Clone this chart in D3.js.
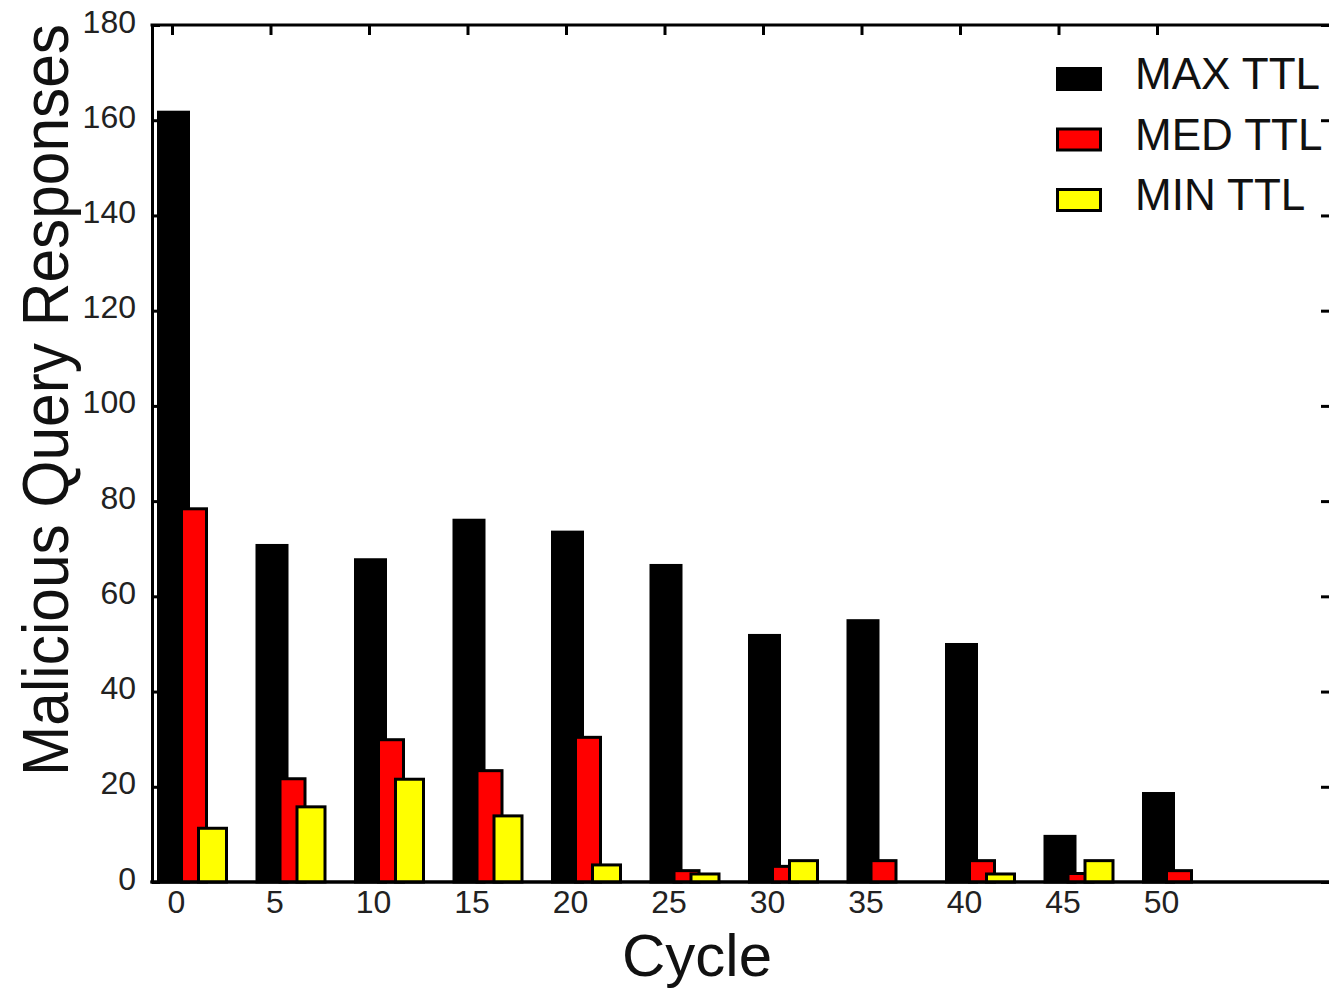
<!DOCTYPE html>
<html>
<head>
<meta charset="utf-8">
<script src="https://cdn.jsdelivr.net/npm/d3@7"></script>
<style>
  body { margin: 0; background: #fff; }
  svg { display: block; font-family: "Liberation Sans", Arial, Helvetica, sans-serif; }
</style>
</head>
<body>
<svg id="chart" width="1329" height="990"></svg>
<script>
// values
const cycles = [0, 5, 10, 15, 20, 25, 30, 35, 40, 45, 50];
const maxTTL = [162, 71, 68, 76.3, 73.8, 66.8, 52.1, 55.2, 50.2, 9.9, 18.9];
const medTTL = [78.7, 22, 30.2, 23.7, 30.7, 2.7, 3.6, 4.8, 4.8, 2.1, 2.7];
const minTTL = [11.6, 16.1, 21.9, 14.2, 3.9, 2.0, 4.8, 0, 2.0, 4.8, 0];
const yTicks = [0, 20, 40, 60, 80, 100, 120, 140, 160, 180];
const seriesNames = ["MAX TTL", "MED TTL", "MIN TTL"];

const svg = d3.select("#chart");
const plotLeft = 152, plotRight = 1331, plotTop = 25, plotBottom = 882;

const x = d3.scaleLinear().domain([0, 50]).range([172, 1157]);
const y = d3.scaleLinear().domain([0, 180]).range([plotBottom, plotTop]);

// bar layout relative to the cycle position: offset, width, fill
const series = [
    { name: seriesNames[0], values: maxTTL, dx: -13.5, w: 30, fill: "#000000" },
    { name: seriesNames[1], values: medTTL, dx: 9.5, w: 25, fill: "#ff0000" },
    { name: seriesNames[2], values: minTTL, dx: 26.5, w: 28, fill: "#ffff00" }
];

function styleAxis(g) {
    g.select(".domain").attr("stroke", "#000").attr("stroke-width", 3);
    g.selectAll(".tick line").attr("stroke", "#000").attr("stroke-width", 3);
}

// frame and axes
svg.append("g")
    .attr("transform", `translate(${plotLeft},0)`)
    .call(d3.axisLeft(y).tickValues(yTicks).tickSizeInner(-8).tickSizeOuter(0).tickPadding(16))
    .call(styleAxis)
    .call(g => g.selectAll("text").attr("font-size", 32).attr("fill", "#222")
        .attr("font-family", null).attr("dy", "0.22em"));

svg.append("g")
    .attr("transform", `translate(${plotRight},0)`)
    .call(d3.axisRight(y).tickValues(yTicks).tickSizeInner(-10).tickSizeOuter(0).tickFormat(""))
    .call(styleAxis);

svg.append("g")
    .attr("transform", `translate(0,${plotTop})`)
    .call(d3.axisTop(x).tickValues(cycles).tickSizeInner(-10).tickSizeOuter(0).tickFormat(""))
    .call(styleAxis)
    .call(g => g.select(".domain").attr("d", `M${plotLeft - 1.5},0H${plotRight}`));

svg.append("g")
    .attr("transform", `translate(0,${plotBottom})`)
    .call(d3.axisBottom(x).tickValues(cycles).tickSizeInner(-8).tickSizeOuter(0).tickPadding(8))
    .call(styleAxis)
    .call(g => g.select(".domain").attr("d", `M${plotLeft - 1.5},0H${plotRight}`))
    .call(g => g.selectAll("text").attr("font-size", 32).attr("fill", "#222")
        .attr("font-family", null).attr("dx", 4));

// bars
series.forEach(s => {
    svg.append("g")
        .selectAll("rect")
        .data(cycles.map((c, i) => ({ c, v: s.values[i] })).filter(d => d.v > 0))
        .join("rect")
        .attr("x", d => x(d.c) + s.dx)
        .attr("y", d => y(d.v) + 1.5)
        .attr("width", s.w)
        .attr("height", d => plotBottom - y(d.v) - 1.5)
        .attr("fill", s.fill)
        .attr("stroke", "#000")
        .attr("stroke-width", 3);
});

// redraw bottom line over bar bases
svg.append("line")
    .attr("x1", plotLeft - 1.5).attr("x2", plotRight)
    .attr("y1", plotBottom).attr("y2", plotBottom)
    .attr("stroke", "#000").attr("stroke-width", 3);

// axis titles
svg.append("text")
    .attr("x", 697).attr("y", 976)
    .attr("text-anchor", "middle")
    .attr("font-size", 60)
    .attr("fill", "#111")
    .text("Cycle");

svg.append("text")
    .attr("transform", "translate(68,400) rotate(-90)")
    .attr("text-anchor", "middle")
    .attr("font-size", 64)
    .attr("textLength", 752)
    .attr("lengthAdjust", "spacingAndGlyphs")
    .attr("fill", "#111")
    .text("Malicious Query Responses");

// legend
const legend = svg.append("g").attr("transform", "translate(1057.5,68.5)");
const rows = legend.selectAll("g")
    .data(series)
    .join("g")
    .attr("transform", (d, i) => `translate(0,${i * 60.5})`);

rows.append("rect")
    .attr("width", 43).attr("height", 21)
    .attr("fill", d => d.fill)
    .attr("stroke", "#000").attr("stroke-width", 3);

rows.append("text")
    .attr("x", 77.5).attr("y", 20.5)
    .attr("font-size", 44)
    .attr("fill", "#111")
    .text(d => d.name);
</script>
</body>
</html>
